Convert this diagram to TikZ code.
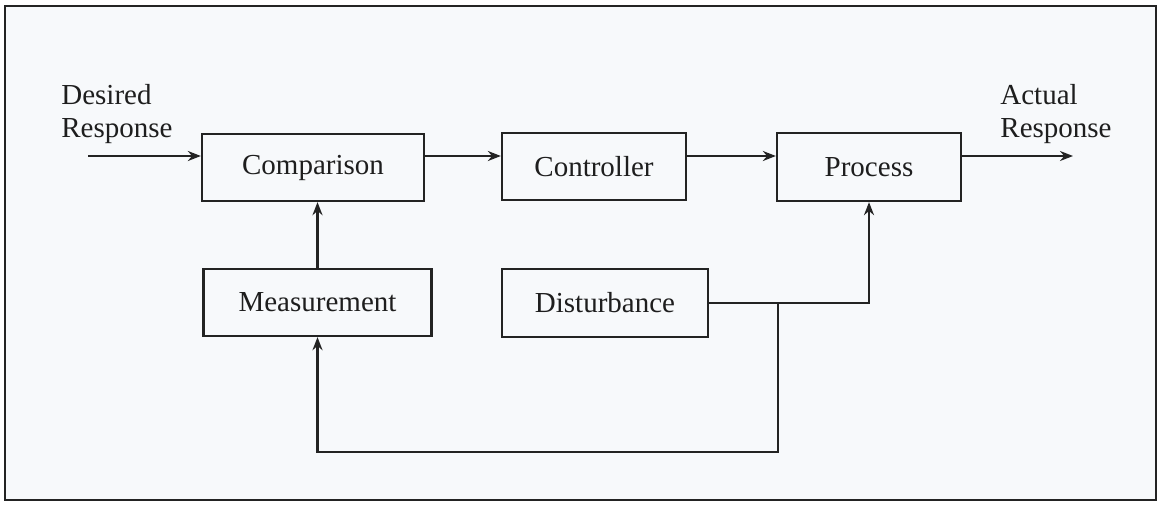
\documentclass[tikz,border=0pt]{standalone}
\usepackage{fontspec}
\setmainfont{Liberation Serif}
\usetikzlibrary{arrows.meta}

\begin{document}
\begin{tikzpicture}[
    x=0.5pt, y=-0.5pt,
    ink/.style={draw={rgb,255:red,35;green,35;blue,35}, line width=1.15pt},
    blockbox/.style={ink, rectangle, inner sep=0pt,
        font=\fontsize{14.5}{16.5}\selectfont, text={rgb,255:red,30;green,30;blue,30}},
    sig/.style={ink, -{Stealth[length=6.5pt,width=5pt]}},
    lbl/.style={inner sep=0pt, align=left, anchor=north west,
        font=\fontsize{14.5}{16.5}\selectfont, text={rgb,255:red,30;green,30;blue,30}}
]
  % page and frame
  \useasboundingbox (0,0) rectangle (1159,504);
  \fill[white] (0,0) rectangle (1159,504);
  \draw[ink, fill={rgb,255:red,247;green,249;blue,251}] (5,6) rectangle (1156,500);

  % signal level of the forward path
  \coordinate (lvl) at (0,156);

  % blocks
  \node[blockbox, minimum width=111pt, minimum height=33.5pt] (comp) at (313,167.5) {Comparison};
  \node[blockbox, minimum width=92pt,  minimum height=33.5pt] (ctrl) at (594,166.5) {Controller};
  \node[blockbox, minimum width=92pt,  minimum height=34pt]   (proc) at (869,167)   {Process};
  \node[blockbox, minimum width=114pt, minimum height=33.5pt] (meas) at (317.5,302.5) {Measurement};
  \node[blockbox, minimum width=103pt, minimum height=34pt]   (dist) at (605,303)   {Disturbance};

  % input and output labels
  \node[lbl] (inlbl) at (61,84) {Desired\\Response};
  \node[lbl] (outlbl) at (1000,84) {Actual\\Response};

  % free ends and branch points
  \coordinate (in) at (88,156);
  \coordinate (out) at (1073,156);
  \coordinate (br) at (778,302);
  \coordinate (fb) at (778,452);

  % forward path
  \draw[sig] (in) -- (in -| comp.west);
  \draw[sig] (comp.east |- lvl) -- (ctrl.west |- lvl);
  \draw[sig] (ctrl.east |- lvl) -- (proc.west |- lvl);
  \draw[sig] (proc.east |- lvl) -- (out);

  % measurement feeds the comparison
  \draw[sig] (meas.north) -- (meas.north |- comp.south);

  % disturbance enters the process
  \draw[sig] (dist.east) -| (proc.south);

  % feedback loop back to the measurement
  \draw[sig] (br) -- (fb) -| (meas.south);
\end{tikzpicture}
\end{document}
